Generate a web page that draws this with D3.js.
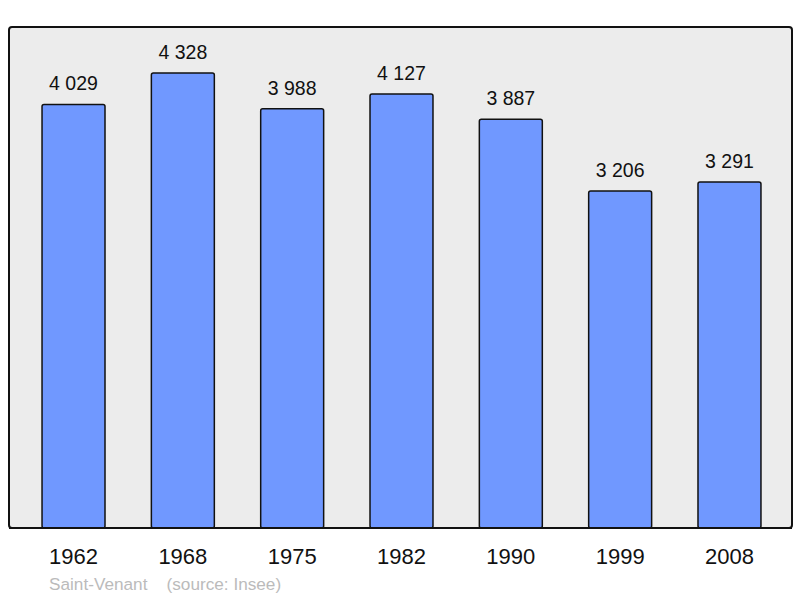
<!DOCTYPE html>
<html>
<head>
<meta charset="utf-8">
<script src="https://cdn.jsdelivr.net/npm/d3@7"></script>
<style>
  body { margin: 0; background: #fff; }
  text { font-family: "Liberation Sans", Arial, sans-serif; }
</style>
</head>
<body>
<svg id="chart" width="800" height="598"></svg>
<script>
// data
var years = ["1962", "1968", "1975", "1982", "1990", "1999", "2008"];
var population = [4029, 4328, 3988, 4127, 3887, 3206, 3291];
var townName = "Saint-Venant";
var sourceNote = "(source: Insee)";

var svg = d3.select("#chart");
var plotLeft = 9, plotRight = 792, plotTop = 27, plotBottom = 528;

var x = d3.scaleBand()
    .domain(years)
    .range([plotLeft + 1, plotRight + 1])
    .paddingInner(0.424)
    .paddingOuter(0.293);

var y = d3.scaleLinear()
    .domain([0, 4765])
    .range([plotBottom, plotTop]);

// plot frame
svg.append("rect")
    .attr("x", plotLeft)
    .attr("y", plotTop)
    .attr("width", plotRight - plotLeft)
    .attr("height", plotBottom - plotTop)
    .attr("rx", 3)
    .attr("fill", "#ececec")
    .attr("stroke", "#111")
    .attr("stroke-width", 2);

var data = years.map(function (d, i) { return {year: d, value: population[i]}; });

svg.selectAll("rect.bar")
    .data(data)
    .enter().append("rect")
    .attr("class", "bar")
    .attr("x", function (d) { return x(d.year); })
    .attr("y", function (d) { return y(d.value); })
    .attr("width", x.bandwidth())
    .attr("height", function (d) { return plotBottom - y(d.value); })
    .attr("rx", 2)
    .attr("fill", "#7098ff")
    .attr("stroke", "#111")
    .attr("stroke-width", 1.5);

// redraw bottom frame line over bars
svg.append("line")
    .attr("x1", plotLeft).attr("x2", plotRight)
    .attr("y1", plotBottom).attr("y2", plotBottom)
    .attr("stroke", "#111")
    .attr("stroke-width", 2);

var fmt = function (v) { return d3.format(",")(v).replace(/,/g, " "); };

svg.selectAll("text.val")
    .data(data)
    .enter().append("text")
    .attr("class", "val")
    .attr("x", function (d) { return x(d.year) + x.bandwidth() / 2; })
    .attr("y", function (d) { return y(d.value) - 14; })
    .attr("text-anchor", "middle")
    .attr("font-size", 19.5)
    .attr("fill", "#111")
    .text(function (d) { return fmt(d.value); });

// year axis
var axis = d3.axisBottom(x).tickSize(0).tickPadding(0);
var g = svg.append("g")
    .attr("transform", "translate(0," + plotBottom + ")")
    .call(axis);
g.select(".domain").remove();
g.selectAll("text")
    .attr("dy", null)
    .attr("y", 36)
    .attr("font-size", 22)
    .attr("font-family", "Liberation Sans, Arial, sans-serif")
    .attr("fill", "#111");

svg.append("text")
    .attr("x", 49)
    .attr("y", 590)
    .attr("font-size", 17.2)
    .attr("fill", "#bbb")
    .attr("xml:space", "preserve")
    .style("white-space", "pre")
    .text(townName + "    " + sourceNote);
</script>
</body>
</html>
